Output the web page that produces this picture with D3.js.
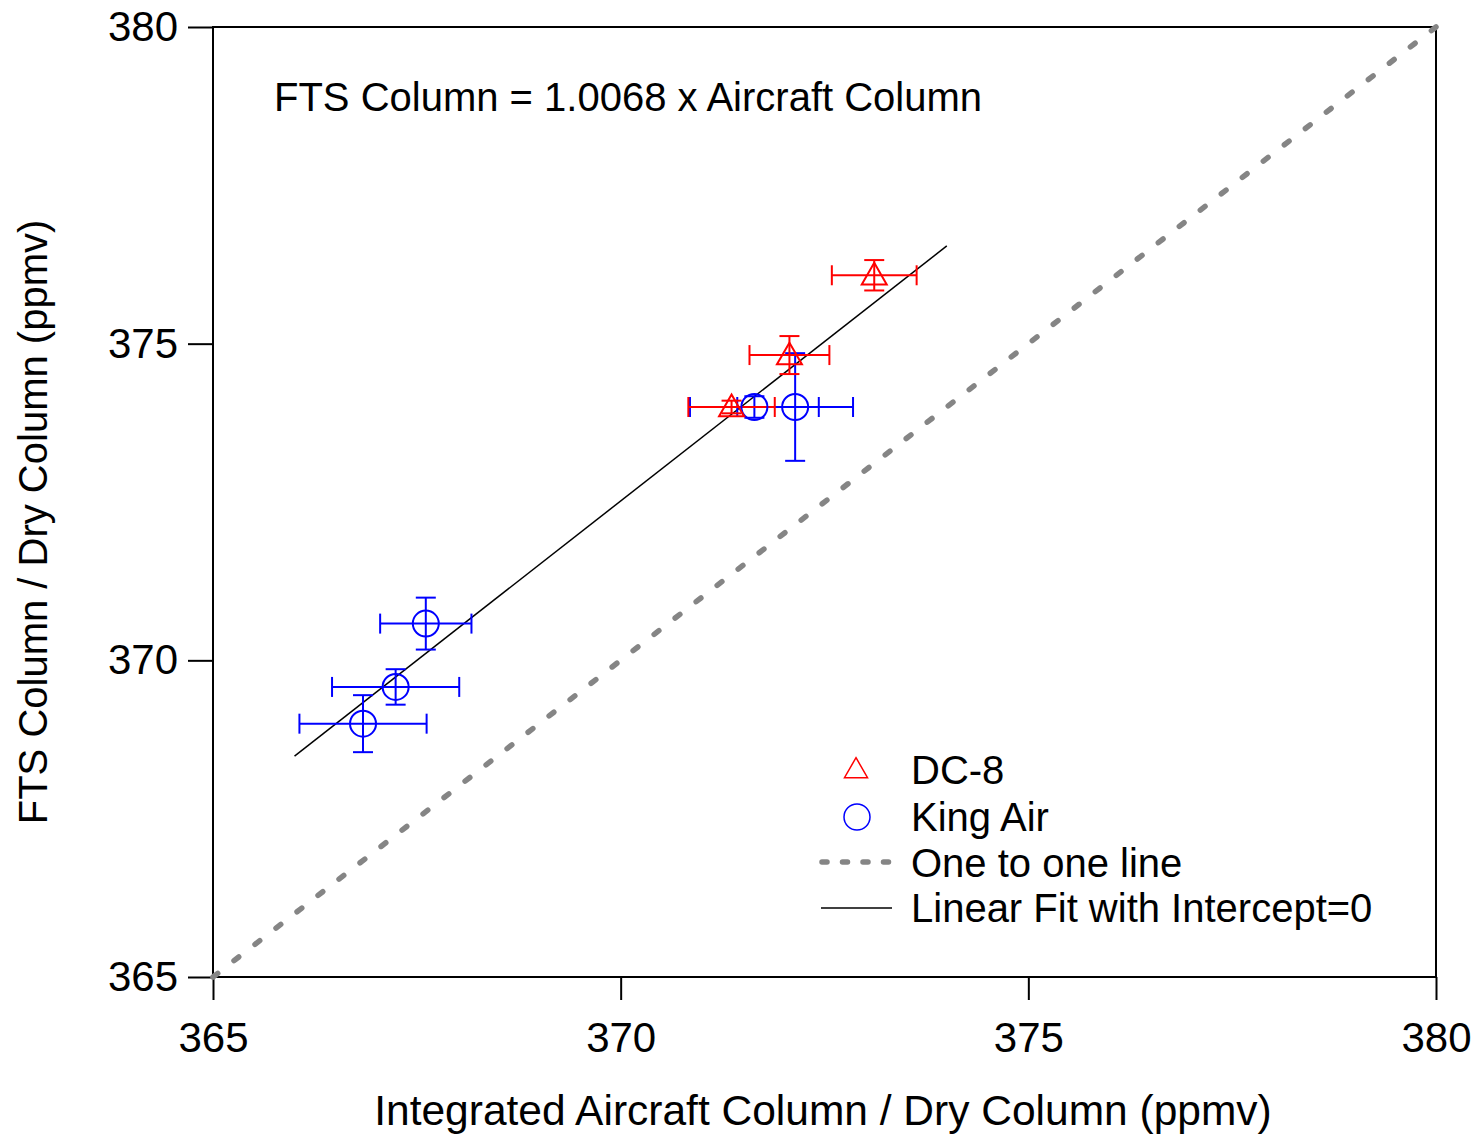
<!DOCTYPE html>
<html>
<head>
<meta charset="utf-8">
<script src="https://cdn.jsdelivr.net/npm/d3@7/dist/d3.min.js"></script>
<style>
  html, body { margin: 0; padding: 0; background: #fff; }
  svg { display: block; font-family: "Liberation Sans", Arial, sans-serif; }
</style>
</head>
<body>
<svg id="chart" width="1476" height="1134"></svg>
<script>
// Axis ticks
const xTicks = [365, 370, 375, 380];
const yTicks = [365, 370, 375, 380];

// DC-8 points: aircraft column, FTS column, and their uncertainties
const dc8X    = [373.11, 372.07, 371.36];
const dc8Y    = [376.08, 374.82, 374.00];
const dc8XErr = [0.52, 0.49, 0.53];
const dc8YErr = [0.24, 0.30, 0.10];

// King Air points
const kaX    = [371.64, 372.14, 367.61, 367.24, 366.84];
const kaY    = [374.00, 374.00, 370.58, 369.58, 369.00];
const kaXErr = [0.79, 0.71, 0.56, 0.78, 0.78];
const kaYErr = [0.17, 0.85, 0.41, 0.28, 0.45];

// Zero-intercept fit
const fitSlope = 1.0068;
const fitRange = [366.0, 374.0];

const legendLabels = ["DC-8", "King Air", "One to one line", "Linear Fit with Intercept=0"];

const svg = d3.select("#chart");
const plotL = 213, plotR = 1436, plotT = 27, plotB = 977;
const grey = "#858585";

const x = d3.scaleLinear().domain([365, 380]).range([plotL, plotR]);
const y = d3.scaleLinear().domain([365, 380]).range([plotB, plotT]);

// Frame
svg.append("rect")
  .attr("x", plotL).attr("y", plotT)
  .attr("width", plotR - plotL).attr("height", plotB - plotT)
  .attr("fill", "none").attr("stroke", "#000").attr("stroke-width", 2);

// Axes
const xAxis = svg.append("g")
  .attr("transform", `translate(0,${plotB})`)
  .call(d3.axisBottom(x).tickValues(xTicks).tickFormat(d3.format("d")).tickSizeInner(23).tickSizeOuter(0).tickPadding(22));
const yAxis = svg.append("g")
  .attr("transform", `translate(${plotL},0)`)
  .call(d3.axisLeft(y).tickValues(yTicks).tickFormat(d3.format("d")).tickSizeInner(25).tickSizeOuter(0).tickPadding(10));
[xAxis, yAxis].forEach(g => {
  g.select(".domain").remove();
  g.selectAll(".tick line").attr("stroke", "#000").attr("stroke-width", 2);
  g.selectAll(".tick text").attr("fill", "#000")
    .style("font-family", "'Liberation Sans', Arial, sans-serif").style("font-size", "42px");
});

// Axis titles
svg.append("text")
  .attr("x", 823).attr("y", 1125)
  .attr("text-anchor", "middle").style("font-size", "42.5px")
  .text("Integrated Aircraft Column / Dry Column (ppmv)");
svg.append("text")
  .attr("transform", `translate(47,522) rotate(-90)`)
  .attr("text-anchor", "middle").style("font-size", "40px")
  .text("FTS Column / Dry Column (ppmv)");

// Fit equation
svg.append("text")
  .attr("x", 274).attr("y", 111).style("font-size", "40px")
  .text("FTS Column = 1.0068 x Aircraft Column");

// One-to-one line
svg.append("line")
  .attr("x1", x(365)).attr("y1", y(365)).attr("x2", x(380)).attr("y2", y(380))
  .attr("stroke", grey).attr("stroke-width", 5.5)
  .attr("stroke-linecap", "round")
  .attr("stroke-dasharray", "6,20.6");

// Linear fit
svg.append("line")
  .attr("x1", x(fitRange[0])).attr("y1", y(fitSlope * fitRange[0]))
  .attr("x2", x(fitRange[1])).attr("y2", y(fitSlope * fitRange[1]))
  .attr("stroke", "#000").attr("stroke-width", 1.5);

// Error bars with caps
function errorBars(xs, ys, xe, ye, color) {
  const g = svg.append("g").attr("stroke", color).attr("stroke-width", 2).attr("fill", "none");
  const cap = 10;
  xs.forEach((xv, i) => {
    const cx = x(xv), cy = y(ys[i]);
    const x0 = x(xv - xe[i]), x1 = x(xv + xe[i]);
    const y0 = y(ys[i] - ye[i]), y1 = y(ys[i] + ye[i]);
    g.append("line").attr("x1", x0).attr("x2", x1).attr("y1", cy).attr("y2", cy);
    g.append("line").attr("x1", x0).attr("x2", x0).attr("y1", cy - cap).attr("y2", cy + cap);
    g.append("line").attr("x1", x1).attr("x2", x1).attr("y1", cy - cap).attr("y2", cy + cap);
    g.append("line").attr("x1", cx).attr("x2", cx).attr("y1", y0).attr("y2", y1);
    g.append("line").attr("x1", cx - cap).attr("x2", cx + cap).attr("y1", y0).attr("y2", y0);
    g.append("line").attr("x1", cx - cap).attr("x2", cx + cap).attr("y1", y1).attr("y2", y1);
  });
}

const triangle = d3.symbol().type(d3.symbolTriangle).size(270);

errorBars(kaX, kaY, kaXErr, kaYErr, "#0000ff");
errorBars(dc8X, dc8Y, dc8XErr, dc8YErr, "#ff0000");

svg.append("g").selectAll("circle").data(kaX).join("circle")
  .attr("cx", d => x(d)).attr("cy", (d, i) => y(kaY[i])).attr("r", 13)
  .attr("fill", "none").attr("stroke", "#0000ff").attr("stroke-width", 2);

svg.append("g").selectAll("path").data(dc8X).join("path")
  .attr("d", triangle)
  .attr("transform", (d, i) => `translate(${x(d)},${y(dc8Y[i]) + 2})`)
  .attr("fill", "none").attr("stroke", "#ff0000").attr("stroke-width", 2);

// Legend
const lg = svg.append("g").style("font-size", "40px");
const lx = 911, ly = [784, 831, 877, 922];
lg.append("path").attr("d", d3.symbol().type(d3.symbolTriangle).size(230))
  .attr("transform", `translate(856,${ly[0] - 13})`)
  .attr("fill", "none").attr("stroke", "#ff0000").attr("stroke-width", 1.5);
lg.append("circle").attr("cx", 857).attr("cy", ly[1] - 14).attr("r", 13)
  .attr("fill", "none").attr("stroke", "#0000ff").attr("stroke-width", 1.5);
lg.append("line").attr("x1", 822).attr("x2", 890).attr("y1", ly[2] - 15).attr("y2", ly[2] - 15)
  .attr("stroke", grey).attr("stroke-width", 5.5)
  .attr("stroke-linecap", "round").attr("stroke-dasharray", "5,15.5");
lg.append("line").attr("x1", 821).attr("x2", 892).attr("y1", ly[3] - 14).attr("y2", ly[3] - 14)
  .attr("stroke", "#000").attr("stroke-width", 1.5);
legendLabels.forEach((t, i) => {
  lg.append("text").attr("x", lx).attr("y", ly[i]).text(t);
});
</script>
</body>
</html>
